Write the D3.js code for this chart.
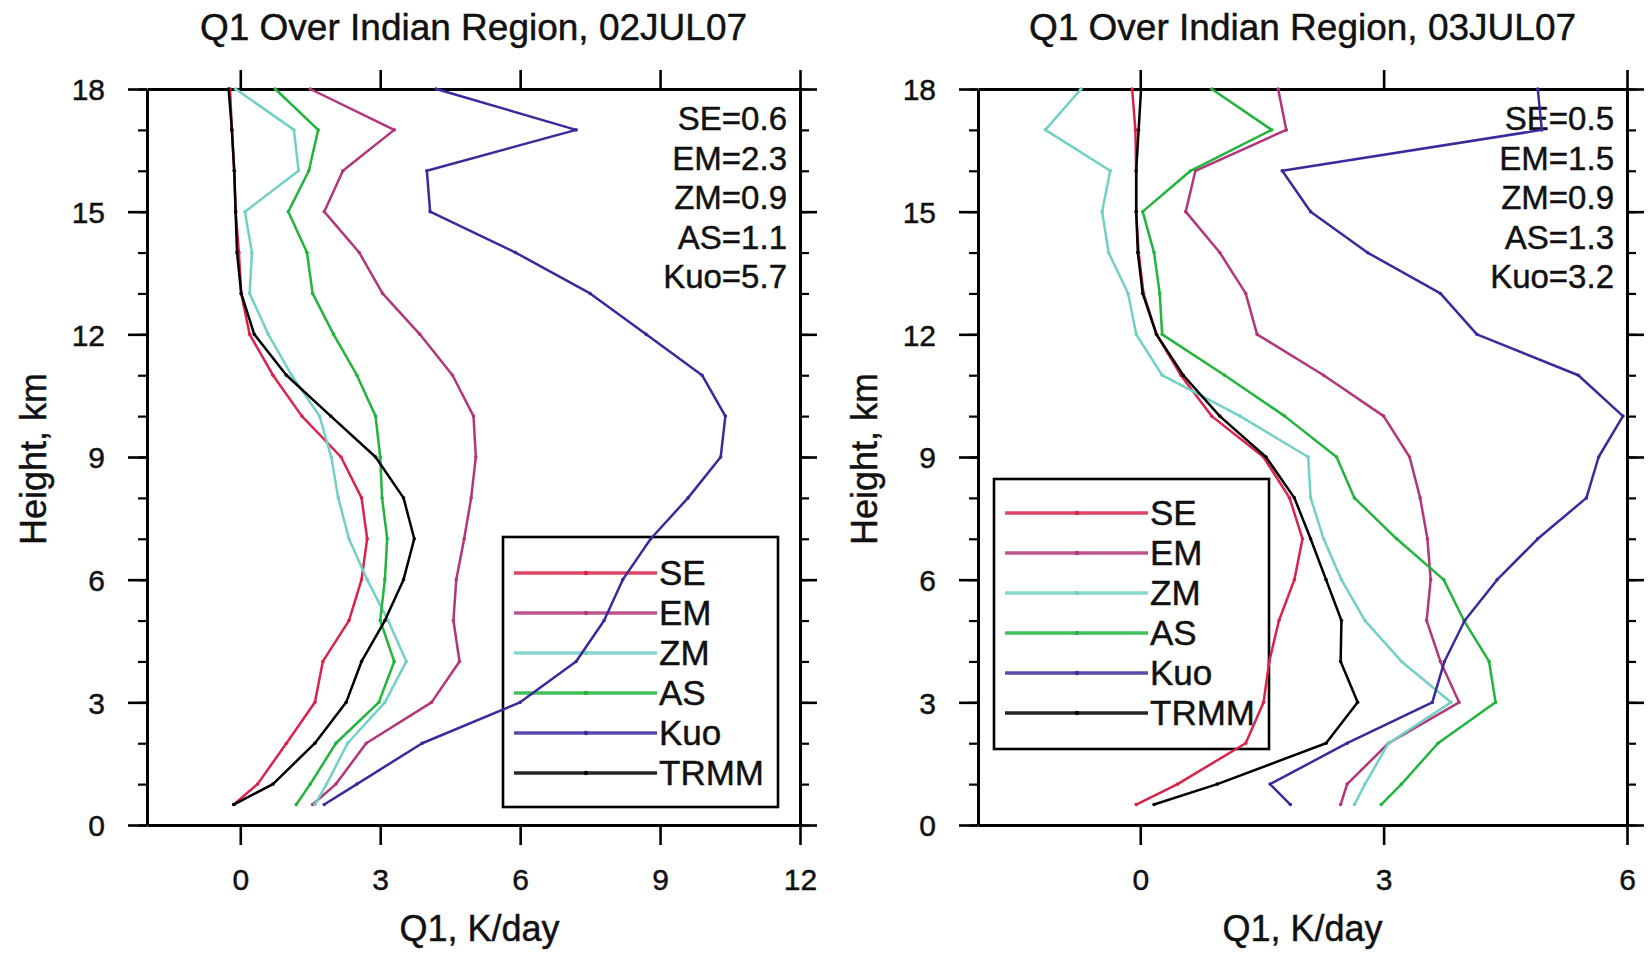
<!DOCTYPE html>
<html>
<head>
<meta charset="utf-8">
<script src="https://cdn.jsdelivr.net/npm/d3@7"></script>
<style>
  body { margin: 0; background: #fff; }
  text { font-family: "Liberation Sans", Arial, Helvetica, sans-serif; fill: #111; stroke: #111; stroke-width: 0.45px; }
</style>
</head>
<body>
<svg id="fig" width="1648" height="955"></svg>
<script>
// Model levels (km), top to bottom
const heightLevels = [18, 17, 16, 15, 14, 13, 12, 11, 10, 9, 8, 7, 6, 5, 4, 3, 2, 1, 0.5];

const seriesNames = ["SE", "EM", "ZM", "AS", "Kuo", "TRMM"];
const seriesColors = ["#d9234b", "#b2367a", "#72d0c4", "#22b43c", "#3b2a9c", "#000000"];

// Q1 heating profiles, K/day — 02 July 2007
const se02   = [-0.22, -0.18, -0.13, -0.10, -0.03, 0.02, 0.20, 0.70, 1.32, 2.16, 2.60, 2.72, 2.60, 2.33, 1.77, 1.60, 0.99, 0.37, -0.14];
const em02   = [1.50, 3.30, 2.20, 1.80, 2.55, 3.05, 3.85, 4.55, 5.00, 5.05, 4.95, 4.80, 4.63, 4.57, 4.70, 4.10, 2.70, 2.05, 1.55];
const zm02   = [-0.10, 1.15, 1.25, 0.10, 0.25, 0.20, 0.60, 1.10, 1.70, 1.95, 2.10, 2.33, 2.72, 3.17, 3.56, 3.10, 2.30, 1.85, 1.60];
const as02   = [0.75, 1.67, 1.47, 1.03, 1.43, 1.55, 2.00, 2.50, 2.90, 3.00, 3.04, 3.15, 3.10, 3.00, 3.30, 2.97, 2.05, 1.50, 1.20];
const kuo02  = [4.20, 7.20, 4.00, 4.07, 5.90, 7.50, 8.70, 9.90, 10.40, 10.30, 9.60, 8.80, 8.20, 7.80, 7.20, 6.00, 3.90, 2.50, 1.80];
const trmm02 = [-0.25, -0.18, -0.13, -0.10, -0.07, 0.02, 0.30, 0.99, 1.94, 2.90, 3.50, 3.73, 3.50, 3.10, 2.60, 2.27, 1.60, 0.70, -0.14];

// Q1 heating profiles, K/day — 03 July 2007
const se03   = [-0.10, -0.06, -0.05, -0.05, -0.02, 0.04, 0.20, 0.50, 0.88, 1.52, 1.84, 2.00, 1.90, 1.71, 1.59, 1.52, 1.30, 0.46, -0.05];
const em03   = [1.70, 1.80, 0.68, 0.56, 0.98, 1.30, 1.44, 2.26, 3.00, 3.32, 3.45, 3.54, 3.58, 3.53, 3.70, 3.93, 3.06, 2.55, 2.47];
const zm03   = [-0.73, -1.17, -0.37, -0.47, -0.39, -0.15, -0.05, 0.27, 1.23, 2.07, 2.10, 2.26, 2.48, 2.77, 3.22, 3.83, 3.06, 2.77, 2.64];
const as03   = [0.88, 1.62, 0.62, 0.03, 0.17, 0.24, 0.27, 1.04, 1.78, 2.42, 2.64, 3.16, 3.74, 3.99, 4.30, 4.38, 3.67, 3.22, 2.97];
const kuo03  = [4.90, 4.95, 1.75, 2.10, 2.80, 3.70, 4.15, 5.40, 5.95, 5.65, 5.50, 4.90, 4.40, 4.00, 3.75, 3.60, 2.55, 1.60, 1.85];
const trmm03 = [0.01, -0.02, -0.05, -0.05, -0.03, 0.03, 0.20, 0.53, 0.98, 1.55, 1.90, 2.10, 2.29, 2.48, 2.47, 2.68, 2.29, 0.95, 0.17];

// Error scores printed in the upper-right corner
const statNames = ["SE", "EM", "ZM", "AS", "Kuo"];
const stats02 = ["0.6", "2.3", "0.9", "1.1", "5.7"];
const stats03 = ["0.5", "1.5", "0.9", "1.3", "3.2"];

// Axis ticks
const heightTicks = [0, 3, 6, 9, 12, 15, 18];
const heightMinorTicks = d3.range(0, 19, 1);
const q1Ticks02 = [0, 3, 6, 9, 12];
const q1Ticks03 = [0, 3, 6];

const panels = [
  { title: "Q1 Over Indian Region, 02JUL07", xDomain: [-2, 12], xTicks: q1Ticks02,
    series: [se02, em02, zm02, as02, kuo02, trmm02], stats: stats02,
    left: 147, right: 800, xLabelShift: 6, legend: { x: 503, y: 537, row0: 36 } },
  { title: "Q1 Over Indian Region, 03JUL07", xDomain: [-2, 6], xTicks: q1Ticks03,
    series: [se03, em03, zm03, as03, kuo03, trmm03], stats: stats03,
    left: 978, right: 1627, xLabelShift: 0, legend: { x: 994, y: 479, row0: 34 } }
];

const TOP = 89, BOTTOM = 825;
const MAJOR = 19, MINOR = 9;
const svg = d3.select("#fig");

function styleAxis(g, sw) {
  g.select(".domain").attr("stroke", "#000").attr("stroke-width", 3);
  g.selectAll(".tick line").attr("stroke", "#000").attr("stroke-width", sw);
}

panels.forEach(p => {
  const x = d3.scaleLinear().domain(p.xDomain).range([p.left, p.right]);
  const y = d3.scaleLinear().domain([0, 18]).range([BOTTOM, TOP]);
  const g = svg.append("g");
  const cx = (p.left + p.right) / 2;

  // title
  g.append("text").attr("x", cx).attr("y", 40).attr("text-anchor", "middle")
    .attr("font-size", 37).text(p.title);

  // minor height ticks, left and right
  g.append("g").attr("transform", `translate(${p.left},0)`)
    .call(d3.axisLeft(y).tickValues(heightMinorTicks).tickSize(MINOR).tickSizeOuter(0).tickFormat(""))
    .call(a => { a.select(".domain").remove(); a.selectAll(".tick line").attr("stroke", "#000").attr("stroke-width", 2.2); });
  g.append("g").attr("transform", `translate(${p.right},0)`)
    .call(d3.axisRight(y).tickValues(heightMinorTicks).tickSize(MINOR).tickSizeOuter(0).tickFormat(""))
    .call(a => { a.select(".domain").remove(); a.selectAll(".tick line").attr("stroke", "#000").attr("stroke-width", 2.2); });

  // major axes on all four sides
  const yl = g.append("g").attr("transform", `translate(${p.left},0)`)
    .call(d3.axisLeft(y).tickValues(heightTicks).tickSize(MAJOR).tickSizeOuter(0).tickPadding(23).tickFormat(d3.format("d")));
  styleAxis(yl, 2.6);
  yl.selectAll("text").attr("font-size", 30).attr("fill", "#111").attr("dy", "0.36em");

  const yr = g.append("g").attr("transform", `translate(${p.right},0)`)
    .call(d3.axisRight(y).tickValues(heightTicks).tickSize(MAJOR - 2).tickSizeOuter(0).tickFormat(""));
  styleAxis(yr, 2.6);

  const xt = g.append("g").attr("transform", `translate(0,${TOP})`)
    .call(d3.axisTop(x).tickValues(p.xTicks).tickSize(MAJOR).tickSizeOuter(0).tickFormat(""));
  styleAxis(xt, 2.6);

  const xb = g.append("g").attr("transform", `translate(0,${BOTTOM})`)
    .call(d3.axisBottom(x).tickValues(p.xTicks).tickSize(MAJOR + 1).tickSizeOuter(0).tickPadding(24).tickFormat(d3.format("d")));
  styleAxis(xb, 2.6);
  xb.selectAll("text").attr("font-size", 30).attr("fill", "#111");

  // axis titles
  g.append("text").attr("text-anchor", "middle").attr("font-size", 36)
    .attr("transform", `translate(${p.left - 101},${(TOP + BOTTOM) / 2 + 2}) rotate(-90)`)
    .text("Height, km");
  g.append("text").attr("x", cx + p.xLabelShift).attr("y", 941).attr("text-anchor", "middle")
    .attr("font-size", 36).text("Q1, K/day");

  // score annotations
  g.append("g").selectAll("text").data(statNames).join("text")
    .attr("x", p.right - 13).attr("y", (d, i) => 130 + i * 39.5)
    .attr("text-anchor", "end").attr("font-size", 33)
    .text((d, i) => `${d}=${p.stats[i]}`);

  // legend box
  const L = p.legend;
  const lg = g.append("g").attr("transform", `translate(${L.x},${L.y})`);
  lg.append("rect").attr("width", 275).attr("height", 270)
    .attr("fill", "none").attr("stroke", "#000").attr("stroke-width", 2.6);
  seriesNames.forEach((name, i) => {
    const ry = L.row0 + i * 40;
    lg.append("line").attr("x1", 11).attr("x2", 154).attr("y1", ry).attr("y2", ry)
      .attr("stroke", seriesColors[i]).attr("stroke-width", 3.4).attr("stroke-opacity", 0.85);
    lg.append("circle").attr("cx", 83).attr("cy", ry).attr("r", 2.2).attr("fill", seriesColors[i]);
    lg.append("text").attr("x", 156).attr("y", ry + 12).attr("font-size", 35).text(name);
  });

  // profiles
  const line = d3.line().x(d => x(d[0])).y(d => y(d[1]));
  p.series.forEach((vals, i) => {
    const pts = vals.map((v, k) => [v, heightLevels[k]]);
    g.append("path").datum(pts).attr("d", line)
      .attr("fill", "none").attr("stroke", seriesColors[i]).attr("stroke-width", 2.5)
      .attr("stroke-linejoin", "round");
    g.append("g").selectAll("circle").data(pts).join("circle")
      .attr("cx", d => x(d[0])).attr("cy", d => y(d[1])).attr("r", 1.8)
      .attr("fill", seriesColors[i]);
  });
});
</script>
</body>
</html>
